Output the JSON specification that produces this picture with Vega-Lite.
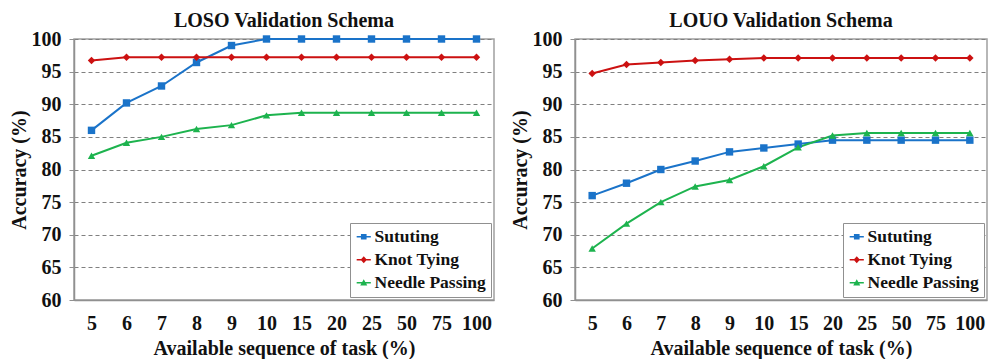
{
  "$schema": "https://vega.github.io/schema/vega-lite/v6.json",
  "background": "white",
  "padding": {"left": 8, "top": 10, "right": 0, "bottom": 0},
  "config": {
    "font": "Liberation Serif",
    "view": {"stroke": "#a0a0a0", "strokeWidth": 1.5},
    "title": {"font": "Liberation Serif", "fontSize": 20, "fontWeight": "bold", "color": "#111", "offset": -2, "frame": "group"},
    "axis": {
      "labelFont": "Liberation Serif", "labelFontSize": 20, "labelFontWeight": "bold", "labelColor": "#111",
      "titleFont": "Liberation Serif", "titleFontSize": 20, "titleFontWeight": "bold", "titleColor": "#111",
      "domainColor": "#909090", "domainWidth": 1.5, "tickColor": "#909090"
    },
    "legend": {
      "labelFont": "Liberation Serif", "labelFontSize": 17.5, "labelFontWeight": "bold", "labelColor": "#111",
      "title": null, "orient": "bottom-right", "offset": 3, "strokeColor": "#909090", "fillColor": "white", "padding": 5,
      "rowPadding": 4, "symbolSize": 200, "symbolStrokeWidth": 0, "labelOffset": 2
    }
  },
  "datasets": {
    "loso": [
      {"pct": "5", "task": "Sututing", "acc": 86.0},
      {"pct": "6", "task": "Sututing", "acc": 90.2},
      {"pct": "7", "task": "Sututing", "acc": 92.8},
      {"pct": "8", "task": "Sututing", "acc": 96.4},
      {"pct": "9", "task": "Sututing", "acc": 99.0},
      {"pct": "10", "task": "Sututing", "acc": 100},
      {"pct": "15", "task": "Sututing", "acc": 100},
      {"pct": "20", "task": "Sututing", "acc": 100},
      {"pct": "25", "task": "Sututing", "acc": 100},
      {"pct": "50", "task": "Sututing", "acc": 100},
      {"pct": "75", "task": "Sututing", "acc": 100},
      {"pct": "100", "task": "Sututing", "acc": 100},
      {"pct": "5", "task": "Knot Tying", "acc": 96.7},
      {"pct": "6", "task": "Knot Tying", "acc": 97.2},
      {"pct": "7", "task": "Knot Tying", "acc": 97.2},
      {"pct": "8", "task": "Knot Tying", "acc": 97.2},
      {"pct": "9", "task": "Knot Tying", "acc": 97.2},
      {"pct": "10", "task": "Knot Tying", "acc": 97.2},
      {"pct": "15", "task": "Knot Tying", "acc": 97.2},
      {"pct": "20", "task": "Knot Tying", "acc": 97.2},
      {"pct": "25", "task": "Knot Tying", "acc": 97.2},
      {"pct": "50", "task": "Knot Tying", "acc": 97.2},
      {"pct": "75", "task": "Knot Tying", "acc": 97.2},
      {"pct": "100", "task": "Knot Tying", "acc": 97.2},
      {"pct": "5", "task": "Needle Passing", "acc": 82.1},
      {"pct": "6", "task": "Needle Passing", "acc": 84.1},
      {"pct": "7", "task": "Needle Passing", "acc": 85.0},
      {"pct": "8", "task": "Needle Passing", "acc": 86.2},
      {"pct": "9", "task": "Needle Passing", "acc": 86.8},
      {"pct": "10", "task": "Needle Passing", "acc": 88.3},
      {"pct": "15", "task": "Needle Passing", "acc": 88.7},
      {"pct": "20", "task": "Needle Passing", "acc": 88.7},
      {"pct": "25", "task": "Needle Passing", "acc": 88.7},
      {"pct": "50", "task": "Needle Passing", "acc": 88.7},
      {"pct": "75", "task": "Needle Passing", "acc": 88.7},
      {"pct": "100", "task": "Needle Passing", "acc": 88.7}
    ],
    "louo": [
      {"pct": "5", "task": "Sututing", "acc": 76.0},
      {"pct": "6", "task": "Sututing", "acc": 77.9},
      {"pct": "7", "task": "Sututing", "acc": 80.0},
      {"pct": "8", "task": "Sututing", "acc": 81.3},
      {"pct": "9", "task": "Sututing", "acc": 82.7},
      {"pct": "10", "task": "Sututing", "acc": 83.3},
      {"pct": "15", "task": "Sututing", "acc": 83.9},
      {"pct": "20", "task": "Sututing", "acc": 84.5},
      {"pct": "25", "task": "Sututing", "acc": 84.5},
      {"pct": "50", "task": "Sututing", "acc": 84.5},
      {"pct": "75", "task": "Sututing", "acc": 84.5},
      {"pct": "100", "task": "Sututing", "acc": 84.5},
      {"pct": "5", "task": "Knot Tying", "acc": 94.7},
      {"pct": "6", "task": "Knot Tying", "acc": 96.1},
      {"pct": "7", "task": "Knot Tying", "acc": 96.4},
      {"pct": "8", "task": "Knot Tying", "acc": 96.7},
      {"pct": "9", "task": "Knot Tying", "acc": 96.9},
      {"pct": "10", "task": "Knot Tying", "acc": 97.1},
      {"pct": "15", "task": "Knot Tying", "acc": 97.1},
      {"pct": "20", "task": "Knot Tying", "acc": 97.1},
      {"pct": "25", "task": "Knot Tying", "acc": 97.1},
      {"pct": "50", "task": "Knot Tying", "acc": 97.1},
      {"pct": "75", "task": "Knot Tying", "acc": 97.1},
      {"pct": "100", "task": "Knot Tying", "acc": 97.1},
      {"pct": "5", "task": "Needle Passing", "acc": 67.9},
      {"pct": "6", "task": "Needle Passing", "acc": 71.7},
      {"pct": "7", "task": "Needle Passing", "acc": 75.0},
      {"pct": "8", "task": "Needle Passing", "acc": 77.4},
      {"pct": "9", "task": "Needle Passing", "acc": 78.4},
      {"pct": "10", "task": "Needle Passing", "acc": 80.5},
      {"pct": "15", "task": "Needle Passing", "acc": 83.4},
      {"pct": "20", "task": "Needle Passing", "acc": 85.2},
      {"pct": "25", "task": "Needle Passing", "acc": 85.6},
      {"pct": "50", "task": "Needle Passing", "acc": 85.6},
      {"pct": "75", "task": "Needle Passing", "acc": 85.6},
      {"pct": "100", "task": "Needle Passing", "acc": 85.6}
    ]
  },
  "spacing": 14,
  "resolve": {"legend": {"color": "independent", "shape": "independent"}},
  "hconcat": [
    {
      "width": 420, "height": 261,
      "title": "LOSO Validation Schema",
      "data": {"name": "loso"},
      "encoding": {
        "x": {"field": "pct", "type": "ordinal", "sort": ["5","6","7","8","9","10","15","20","25","50","75","100"],
              "scale": {"type": "point", "padding": 0.5},
              "title": "Available sequence of task (%)",
              "axis": {"labelAngle": 0, "ticks": false, "labelPadding": 13, "titlePadding": 5, "grid": false}},
        "y": {"field": "acc", "type": "quantitative", "scale": {"domain": [60, 100], "zero": false, "nice": false},
              "title": "Accuracy (%)",
              "axis": {"values": [60,65,70,75,80,85,90,95,100], "tickSize": 5, "labelPadding": 8, "titlePadding": 2,
                       "grid": true, "gridColor": "#808080", "gridDash": [4,3], "gridWidth": 1}}
      },
      "resolve": {"scale": {"shape": "independent", "color": "independent"}},
      "layer": [
        {"mark": {"type": "line", "strokeWidth": 2},
         "encoding": {"color": {"field": "task", "type": "nominal",
                  "scale": {"domain": ["Sututing","Knot Tying","Needle Passing"], "range": ["#1a73c9","#cc1111","#1db34e"]}, "legend": null}}},
        {"mark": {"type": "point", "filled": true, "opacity": 1, "size": 55},
         "encoding": {"color": {"field": "task", "type": "nominal",
                  "scale": {"domain": ["Sututing","Knot Tying","Needle Passing"], "range": ["#1a73c9","#cc1111","#1db34e"]}, "legend": null},
                      "shape": {"field": "task", "type": "nominal",
                                "scale": {"domain": ["Sututing","Knot Tying","Needle Passing"], "range": ["square","diamond","triangle-up"]},
                                "legend": null}}},
        {"transform": [{"filter": "false"}],
         "mark": {"type": "point", "filled": true, "opacity": 1},
         "encoding": {"color": {"field": "task", "type": "nominal",
                  "scale": {"domain": ["Sututing","Knot Tying","Needle Passing"], "range": ["#1a73c9","#cc1111","#1db34e"]}},
                      "shape": {"field": "task", "type": "nominal",
                                "scale": {"domain": ["Sututing","Knot Tying","Needle Passing"], "range": ["M-1,-0.1H1V0.1H-1Z M-0.4,-0.4H0.4V0.4H-0.4Z", "M-1,-0.1H1V0.1H-1Z M0,-0.5L0.45,0L0,0.5L-0.45,0Z", "M-1,-0.1H1V0.1H-1Z M0,-0.5L0.5,0.4H-0.5Z"]}}}}
      ]
    },
    {
      "width": 412, "height": 261,
      "title": "LOUO Validation Schema",
      "data": {"name": "louo"},
      "encoding": {
        "x": {"field": "pct", "type": "ordinal", "sort": ["5","6","7","8","9","10","15","20","25","50","75","100"],
              "scale": {"type": "point", "padding": 0.5},
              "title": "Available sequence of task (%)",
              "axis": {"labelAngle": 0, "ticks": false, "labelPadding": 13, "titlePadding": 5, "grid": false}},
        "y": {"field": "acc", "type": "quantitative", "scale": {"domain": [60, 100], "zero": false, "nice": false},
              "title": "Accuracy (%)",
              "axis": {"values": [60,65,70,75,80,85,90,95,100], "tickSize": 5, "labelPadding": 8, "titlePadding": 2,
                       "grid": true, "gridColor": "#808080", "gridDash": [4,3], "gridWidth": 1}}
      },
      "resolve": {"scale": {"shape": "independent", "color": "independent"}},
      "layer": [
        {"mark": {"type": "line", "strokeWidth": 2},
         "encoding": {"color": {"field": "task", "type": "nominal",
                  "scale": {"domain": ["Sututing","Knot Tying","Needle Passing"], "range": ["#1a73c9","#cc1111","#1db34e"]}, "legend": null}}},
        {"mark": {"type": "point", "filled": true, "opacity": 1, "size": 55},
         "encoding": {"color": {"field": "task", "type": "nominal",
                  "scale": {"domain": ["Sututing","Knot Tying","Needle Passing"], "range": ["#1a73c9","#cc1111","#1db34e"]}, "legend": null},
                      "shape": {"field": "task", "type": "nominal",
                                "scale": {"domain": ["Sututing","Knot Tying","Needle Passing"], "range": ["square","diamond","triangle-up"]},
                                "legend": null}}},
        {"transform": [{"filter": "false"}],
         "mark": {"type": "point", "filled": true, "opacity": 1},
         "encoding": {"color": {"field": "task", "type": "nominal",
                  "scale": {"domain": ["Sututing","Knot Tying","Needle Passing"], "range": ["#1a73c9","#cc1111","#1db34e"]}},
                      "shape": {"field": "task", "type": "nominal",
                                "scale": {"domain": ["Sututing","Knot Tying","Needle Passing"], "range": ["M-1,-0.1H1V0.1H-1Z M-0.4,-0.4H0.4V0.4H-0.4Z", "M-1,-0.1H1V0.1H-1Z M0,-0.5L0.45,0L0,0.5L-0.45,0Z", "M-1,-0.1H1V0.1H-1Z M0,-0.5L0.5,0.4H-0.5Z"]}}}}
      ]
    }
  ]
}
